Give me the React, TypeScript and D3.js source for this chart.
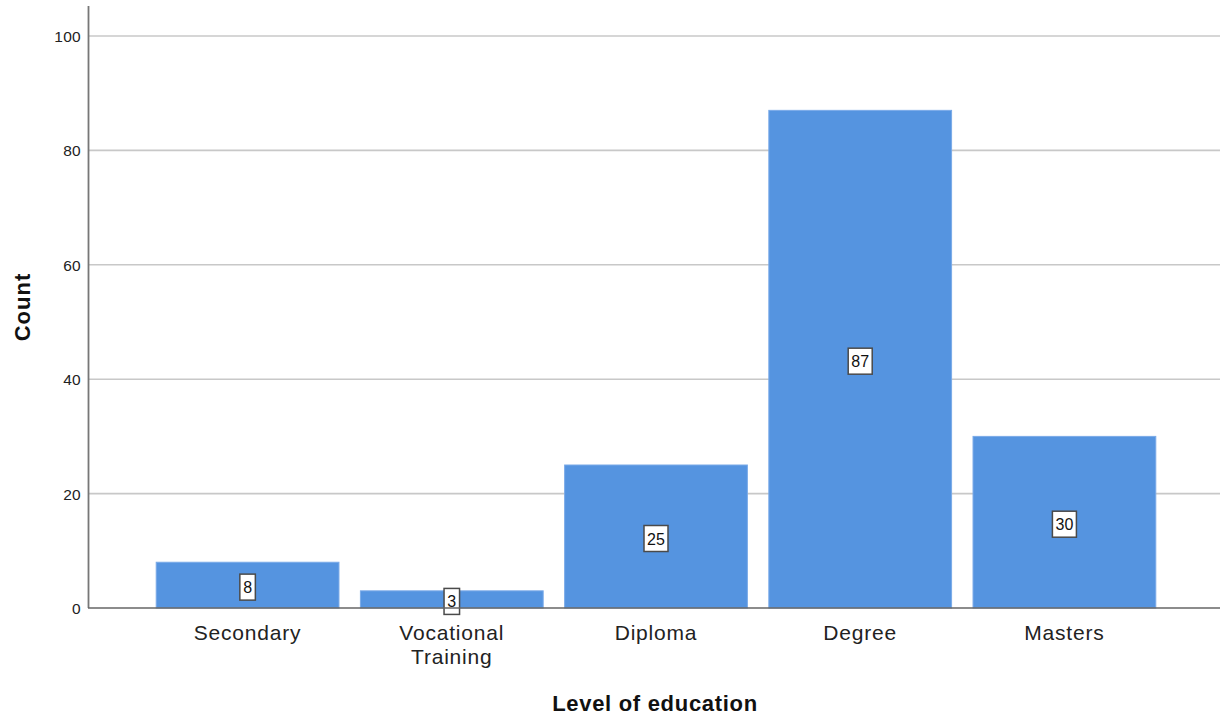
import React from "react";
import * as d3 from "d3";

const categories = ["Secondary", "Vocational Training", "Diploma", "Degree", "Masters"];
const counts = [8, 3, 25, 87, 30];
const yTicks = [0, 20, 40, 60, 80, 100];

const W = 1222;
const H = 715;

export default function App() {
  const x = d3.scaleBand<string>().domain(categories).range([146, 1166]).paddingInner(0.105).paddingOuter(0.05);
  const y = d3.scaleLinear().domain([0, 100]).range([608, 36]);
  const font = "Arial, 'Liberation Sans', sans-serif";
  return (
    <svg width={W} height={H} style={{ position: "absolute", left: 0, top: 0, background: "#fff" }} fontFamily={font}>
      {yTicks.filter(t => t > 0).map(t => (
        <line key={t} x1={88} x2={1220} y1={y(t)} y2={y(t)} stroke="#c8c8c8" strokeWidth={1.6} />
      ))}
      {categories.map((c, i) => {
        const v = counts[i];
        const bx = x(c)!;
        const bw = x.bandwidth();
        const yTop = y(v);
        const cx = bx + bw / 2;
        const cy = (yTop + y(0)) / 2 + 2;
        const label = String(v);
        const tw = label.length * 8.5 + 7;
        const lines = c === "Vocational Training" ? ["Vocational", "Training"] : [c];
        return (
          <g key={c}>
            <rect x={bx} y={yTop} width={bw} height={y(0) - yTop} fill="#5594e0" stroke="#7aaae8" strokeWidth={1} />
            <rect x={cx - tw / 2} y={cy - 13} width={tw} height={26} fill="#fff" stroke="#4a4a4a" strokeWidth={1.5} />
            <text x={cx} y={cy + 6} textAnchor="middle" fontSize={16} fill="#111">{label}</text>
            {lines.map((ln, j) => (
              <text key={j} x={cx} y={640 + j * 24} textAnchor="middle" fontSize={21} letterSpacing={0.8} fill="#222">{ln}</text>
            ))}
          </g>
        );
      })}
      <line x1={88.5} x2={88.5} y1={6} y2={608} stroke="#777" strokeWidth={1.8} />
      <line x1={88} x2={1220} y1={608} y2={608} stroke="#666" strokeWidth={1.6} />
      {yTicks.map(t => (
        <text key={t} x={81} y={y(t) + 6} textAnchor="end" fontSize={15.5} letterSpacing={0.3} fill="#222">{t}</text>
      ))}
      <text x={655} y={711} textAnchor="middle" fontSize={22} letterSpacing={0.7} fontWeight="bold" fill="#111">Level of education</text>
      <text transform={`translate(30,307) rotate(-90)`} textAnchor="middle" fontSize={22} letterSpacing={1} fontWeight="bold" fill="#111">Count</text>
    </svg>
  );
}
